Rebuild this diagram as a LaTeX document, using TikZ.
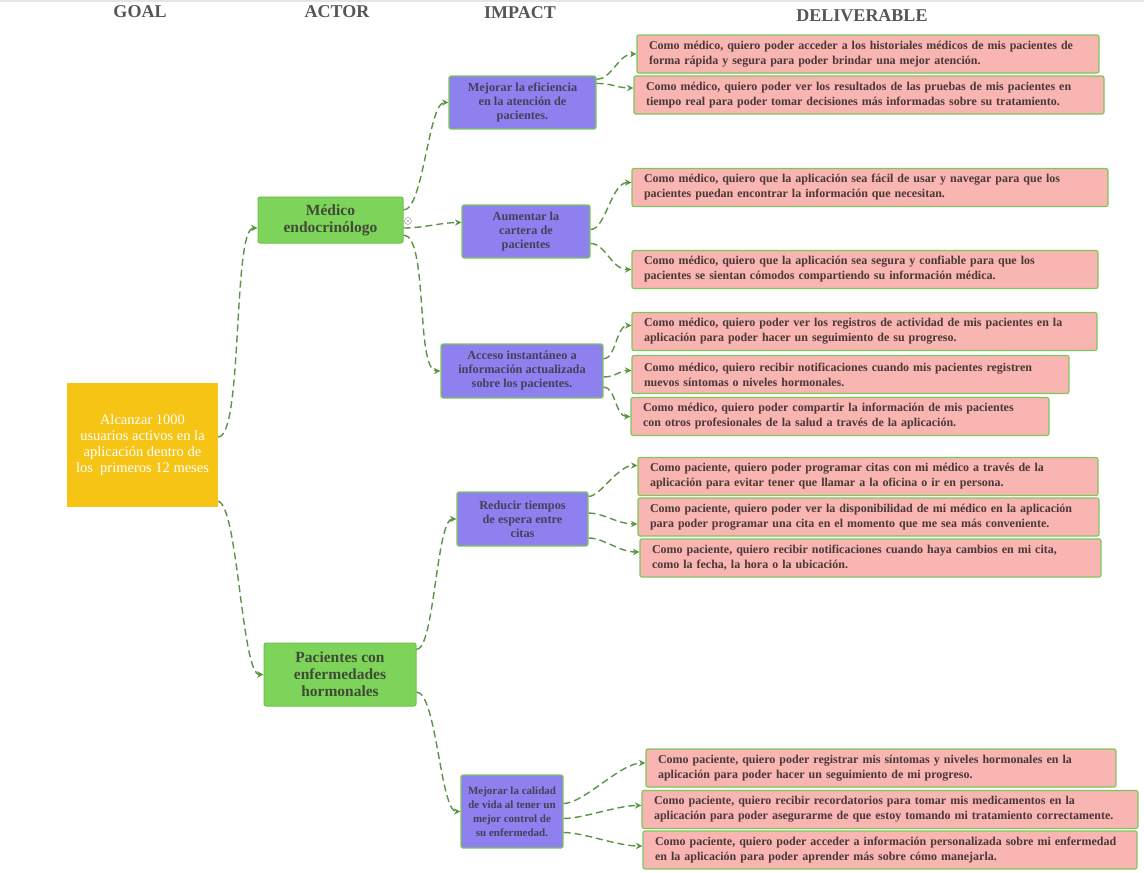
\documentclass[tikz,border=0pt]{standalone}
\usepackage{fontspec}
\setmainfont{Liberation Serif}
\usetikzlibrary{arrows.meta}

\definecolor{goalfill}{HTML}{F5C414}
\definecolor{actorfill}{HTML}{7ED45A}
\definecolor{actorline}{HTML}{6CC24A}
\definecolor{actortext}{HTML}{3E4B35}
\definecolor{impactfill}{HTML}{8E80EE}
\definecolor{boxline}{HTML}{7CC85C}
\definecolor{impacttext}{HTML}{45405A}
\definecolor{delivfill}{HTML}{F8B5B1}
\definecolor{delivtext}{HTML}{4A3838}
\definecolor{linkcol}{HTML}{5B9445}
\definecolor{headcol}{HTML}{555555}

\begin{document}
\begin{tikzpicture}[x=1pt,y=-1pt,
  header/.style={text=headcol, font=\bfseries\fontsize{18}{20}\selectfont},
  goalbox/.style={fill=goalfill, minimum width=151, minimum height=124, inner sep=0,
    text=white, align=center, font=\fontsize{14.5}{15.8}\selectfont},
  actorbox/.style={fill=actorfill, draw=actorline, line width=1, rounded corners=2,
    inner sep=0, text=actortext, align=center, font=\bfseries\fontsize{15.5}{17}\selectfont},
  impactbox/.style={fill=impactfill, draw=boxline, line width=1.2, rounded corners=2,
    inner sep=0, text=impacttext, align=center, font=\bfseries\fontsize{12.3}{14}\selectfont},
  delivbox/.style={fill=delivfill, draw=boxline, line width=1.2, rounded corners=2,
    inner xsep=12, inner ysep=0, minimum height=38, text=delivtext, align=left,
    font=\bfseries\fontsize{12}{15}\selectfont},
  link/.style={draw=linkcol, line width=1.4, dash pattern=on 7pt off 4pt,
    -{Stealth[length=6.5pt,width=6.5pt]}}
]
\useasboundingbox (0,0) rectangle (1144,873);
\fill[gray!20] (0,0) rectangle (1144,2);

% column headings
\node[header] (hgoal) at (140,12) {GOAL};
\node[header] (hactor) at (337,12) {ACTOR};
\node[header] (himpact) at (520,13) {IMPACT};
\node[header] (hdeliv) at (862,16) {DELIVERABLE};

% goal
\node[goalbox] (goal) at (142.5,445) {Alcanzar 1000\\usuarios activos en la\\aplicación dentro de\\los\ \ primeros 12 meses};

% actors
\node[actorbox, minimum width=145, minimum height=46] (a1) at (330.5,220) {Médico\\endocrinólogo};
\node[actorbox, minimum width=152, minimum height=63] (a2) at (340,674.5) {Pacientes con\\enfermedades\\hormonales};
\node[circle, draw=gray!70, fill=white, line width=0.6, inner sep=0, minimum size=7] (tog) at (408,221) {};
\fill[gray!70] (tog.center) circle[radius=1.1];

% impacts
\node[impactbox, minimum width=147, minimum height=53] (i1) at (522.5,102.5) {Mejorar la eficiencia\\en la atención de\\pacientes.};
\node[impactbox, minimum width=128, minimum height=53] (i2) at (526,231.5) {Aumentar la\\cartera de\\pacientes};
\node[impactbox, minimum width=162, minimum height=54] (i3) at (522,371) {Acceso instantáneo a\\información actualizada\\sobre los pacientes.};
\node[impactbox, minimum width=131, minimum height=54] (i4) at (522.5,519) {Reducir tiempos\\de espera entre\\citas};
\node[impactbox, minimum width=102, minimum height=73, font=\bfseries\fontsize{11}{14}\selectfont] (i5) at (512,811.5) {Mejorar la calidad\\de vida al tener un\\mejor control de\\su enfermedad.};

% deliverables
\node[delivbox, text width=438] (d1) at (868,54) {Como médico, quiero poder acceder a los historiales médicos de mis pacientes de\\forma rápida y segura para poder brindar una mejor atención.};
\node[delivbox, text width=446] (d2) at (869,95) {Como médico, quiero poder ver los resultados de las pruebas de mis pacientes en\\tiempo real para poder tomar decisiones más informadas sobre su tratamiento.};
\node[delivbox, text width=452] (d3) at (870,187.5) {Como médico, quiero que la aplicación sea fácil de usar y navegar para que los\\pacientes puedan encontrar la información que necesitan.};
\node[delivbox, text width=442] (d4) at (865,269.5) {Como médico, quiero que la aplicación sea segura y confiable para que los\\pacientes se sientan cómodos compartiendo su información médica.};
\node[delivbox, text width=441] (d5) at (864.5,331.5) {Como médico, quiero poder ver los registros de actividad de mis pacientes en la\\aplicación para poder hacer un seguimiento de su progreso.};
\node[delivbox, text width=413] (d6) at (850.5,374.5) {Como médico, quiero recibir notificaciones cuando mis pacientes registren\\nuevos síntomas o niveles hormonales.};
\node[delivbox, text width=394] (d7) at (840,416.5) {Como médico, quiero poder compartir la información de mis pacientes\\con otros profesionales de la salud a través de la aplicación.};
\node[delivbox, text width=436] (d8) at (868,476.5) {Como paciente, quiero poder programar citas con mi médico a través de la\\aplicación para evitar tener que llamar a la oficina o ir en persona.};
\node[delivbox, text width=437] (d9) at (868.5,517) {Como paciente, quiero poder ver la disponibilidad de mi médico en la aplicación\\para poder programar una cita en el momento que me sea más conveniente.};
\node[delivbox, text width=437] (d10) at (870.5,558) {Como paciente, quiero recibir notificaciones cuando haya cambios en mi cita,\\como la fecha, la hora o la ubicación.};
\node[delivbox, text width=446] (d11) at (881,768) {Como paciente, quiero poder registrar mis síntomas y niveles hormonales en la\\aplicación para poder hacer un seguimiento de mi progreso.};
\node[delivbox, text width=472] (d12) at (890,809.5) {Como paciente, quiero recibir recordatorios para tomar mis medicamentos en la\\aplicación para poder asegurarme de que estoy tomando mi tratamiento correctamente.};
\node[delivbox, text width=470] (d13) at (890,850) {Como paciente, quiero poder acceder a información personalizada sobre mi enfermedad\\en la aplicación para poder aprender más sobre cómo manejarla.};

% goal -> actors
\draw[link] ([yshift=8pt]goal.east) .. controls +(25,0) and +(-25,0) .. ([yshift=-8pt]a1.west);
\draw[link] ([yshift=6pt]goal.south east) .. controls +(20,5) and +(-22,0) .. (a2.west);

% actors -> impacts
\draw[link] ([yshift=10pt]a1.east) .. controls +(20,0) and +(-20,0) .. (i1.west);
\draw[link] ([yshift=-8pt]a1.east) .. controls +(20,0) and +(-20,0) .. ([yshift=9pt]i2.west);
\draw[link] ([yshift=-15pt]a1.east) .. controls +(25,0) and +(-25,0) .. (i3.west);
\draw[link] ([yshift=-7pt]a2.north east) .. controls +(18,0) and +(-20,0) .. (i4.west);
\draw[link] ([yshift=-17.5pt]a2.east) .. controls +(20,0) and +(-20,0) .. (i5.west);

% impacts -> deliverables
\draw[link] ([yshift=-4pt]i1.north east) .. controls +(15,0) and +(-18,0) .. (d1.west);
\draw[link] ([yshift=-8pt]i1.north east) .. controls +(15,0) and +(-15,0) .. ([yshift=7pt]d2.west);
\draw[link] ([yshift=2pt]i2.east) .. controls +(15,0) and +(-20,0) .. ([yshift=5pt]d3.west);
\draw[link] ([yshift=-12pt]i2.east) .. controls +(15,0) and +(-20,0) .. (d4.west);
\draw[link] ([yshift=12pt]i3.east) .. controls +(12,0) and +(-15,0) .. ([yshift=6pt]d5.west);
\draw[link] ([yshift=-6pt]i3.east) .. controls +(12,0) and +(-12,0) .. ([yshift=4pt]d6.west);
\draw[link] ([yshift=-16pt]i3.east) .. controls +(12,0) and +(-15,0) .. (d7.west);
\draw[link] ([yshift=-5pt]i4.north east) .. controls +(12,0) and +(-20,0) .. ([yshift=11pt]d8.west);
\draw[link] ([yshift=6pt]i4.east) .. controls +(15,0) and +(-20,0) .. ([yshift=-7pt]d9.west);
\draw[link] ([yshift=-19pt]i4.east) .. controls +(15,0) and +(-20,0) .. ([yshift=6pt]d10.west);
\draw[link] ([yshift=8pt]i5.east) .. controls +(20,0) and +(-25,0) .. ([yshift=5pt]d11.west);
\draw[link] ([yshift=-7pt]i5.east) .. controls +(20,0) and +(-25,0) .. ([yshift=4pt]d12.west);
\draw[link] ([yshift=-21pt]i5.east) .. controls +(20,0) and +(-25,0) .. ([yshift=4pt]d13.west);
\end{tikzpicture}
\end{document}
